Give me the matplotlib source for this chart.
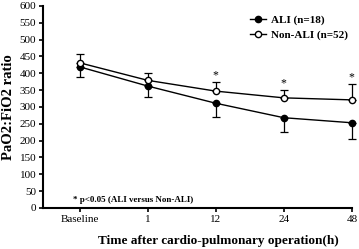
import matplotlib
matplotlib.use("Agg")
import matplotlib.pyplot as plt
from matplotlib.lines import Line2D
import numpy as np

categories = ["Baseline", "1", "12", "24", "48"]
ali_mean = [419, 362, 311, 268, 253]
ali_low = [389, 331, 270, 225, 204]
nonali_mean = [431, 379, 347, 327, 321]
nonali_high = [456, 402, 373, 351, 369]
sig = [False, False, True, True, True]

plt.rcParams['font.family'] = ['Liberation Serif', 'DejaVu Serif']

fig = plt.figure(figsize=(3.59, 2.49), dpi=100)
ax = fig.add_axes([0.12, 0.165, 0.86, 0.811])
x = np.arange(len(categories))

ali_err = np.array(ali_mean) - np.array(ali_low)
non_err = np.array(nonali_high) - np.array(nonali_mean)

ax.errorbar(x, ali_mean, yerr=[ali_err, np.zeros_like(ali_err)], color='black',
            marker='o', ms=4.5, mfc='black', mec='black', lw=1.0, elinewidth=0.9,
            capsize=3, capthick=0.9, clip_on=False)
ax.errorbar(x, nonali_mean, yerr=[np.zeros_like(non_err), non_err], color='black',
            marker='o', ms=4.5, mfc='white', mec='black', lw=1.0, elinewidth=0.9,
            capsize=3, capthick=0.9, clip_on=False)

for xi, hi, s in zip(x, nonali_high, sig):
    if s:
        ax.text(xi, hi + 2, '*', ha='center', va='bottom', fontsize=8.5)

ax.set_xlim(-0.54, 4.0)
ax.set_ylim(0, 600)
ax.set_yticks(np.arange(0, 601, 50))
ax.set_xticks(x)
ax.set_xticklabels(categories)
ax.tick_params(axis='both', labelsize=8, direction='out', length=3, width=1.2, pad=2)
for s in ['top', 'right']:
    ax.spines[s].set_visible(False)
for s in ['left', 'bottom']:
    ax.spines[s].set_linewidth(1.5)

ax.set_ylabel('PaO2:FiO2 ratio', fontsize=10.5, fontweight='bold', labelpad=3)
ax.set_xlabel('Time after cardio-pulmonary operation(h)', fontsize=9.5, fontweight='bold', labelpad=7)
ax.xaxis.set_label_coords(0.568, -0.135)

ax.text(-0.1, 25, '* p<0.05 (ALI versus Non-ALI)', fontsize=6.5, fontweight='bold', va='center')

handles = [Line2D([], [], color='black', lw=1.0, marker='o', ms=4.5, mfc='black', mec='black'),
           Line2D([], [], color='black', lw=1.0, marker='o', ms=4.5, mfc='white', mec='black')]
leg = ax.legend(handles, ['ALI (n=18)', 'Non-ALI (n=52)'], loc='upper right',
                bbox_to_anchor=(1.01, 0.99), frameon=False,
                prop={'size': 8, 'weight': 'bold'}, handlelength=1.4, handletextpad=0.5,
                borderaxespad=0.2, labelspacing=0.5)

fig.savefig('out.png', dpi=100)
